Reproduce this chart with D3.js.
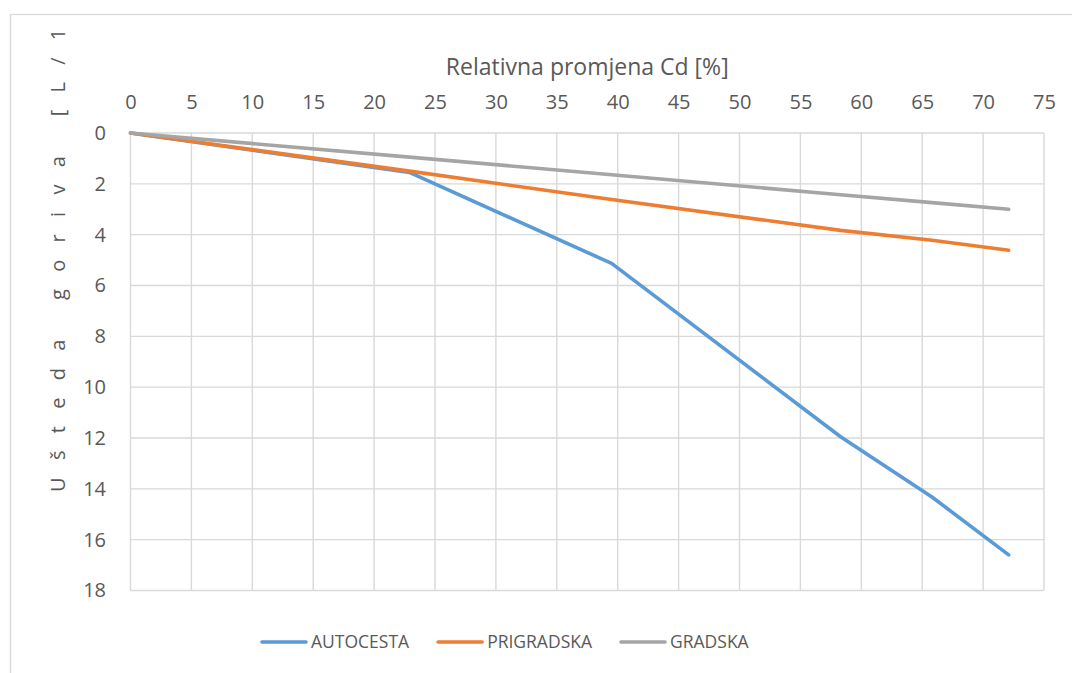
<!DOCTYPE html>
<html>
<head>
<meta charset="utf-8">
<script src="https://cdn.jsdelivr.net/npm/d3@7"></script>
<style>
  html, body { margin: 0; padding: 0; background: #ffffff; }
  svg { display: block; }
  text { font-family: "Open Sans", sans-serif; fill: #595959; }
</style>
</head>
<body>
<svg id="chart" width="1072" height="673"></svg>
<script>
// Relative change of drag coefficient Cd [%] vs. fuel savings per driving cycle
const seriesNames = ["AUTOCESTA", "PRIGRADSKA", "GRADSKA"];
const seriesColors = ["#5b9bd5", "#ed7d31", "#a5a5a5"];
const cdChange = [0, 22.9, 39.5, 58.3, 65.8, 72.1];
const autocesta = [0, 1.55, 5.13, 11.95, 14.32, 16.6];
const prigradska = [0, 1.5, 2.62, 3.83, 4.22, 4.61];
const gradska = [0, 0.95, 1.64, 2.43, 2.74, 3.0];
const xTicks = [0, 5, 10, 15, 20, 25, 30, 35, 40, 45, 50, 55, 60, 65, 70, 75];
const yTicks = [0, 2, 4, 6, 8, 10, 12, 14, 16, 18];
const xTitle = "Relativna promjena Cd [%]";
const yTitle = "Ušteda goriva [L/1";

const seriesValues = [autocesta, prigradska, gradska];

const svg = d3.select("#chart");

// chart area frame
svg.append("rect")
  .attr("x", 10.5).attr("y", 14.5)
  .attr("width", 1100).attr("height", 700)
  .attr("fill", "#ffffff")
  .attr("stroke", "#d9d9d9").attr("stroke-width", 1.3);

const plot = { left: 130.5, right: 1044, top: 133, bottom: 590.5 };

const x = d3.scaleLinear().domain([0, 75]).range([plot.left, plot.right]);
const y = d3.scaleLinear().domain([0, 18]).range([plot.top, plot.bottom]);

// gridlines
const grid = svg.append("g").attr("stroke", "#d9d9d9").attr("stroke-width", 1.4);
grid.selectAll("line.v").data(xTicks).join("line")
  .attr("class", "v")
  .attr("x1", d => x(d)).attr("x2", d => x(d))
  .attr("y1", plot.top).attr("y2", plot.bottom);
grid.selectAll("line.h").data(yTicks).join("line")
  .attr("class", "h")
  .attr("x1", plot.left).attr("x2", plot.right)
  .attr("y1", d => y(d)).attr("y2", d => y(d));

// x axis along the top
const xAxis = svg.append("g")
  .attr("transform", `translate(0,${plot.top})`)
  .call(d3.axisTop(x).tickValues(xTicks).tickSize(0).tickPadding(24).tickFormat(d3.format("d")));
xAxis.select(".domain").remove();
xAxis.selectAll("text")
  .style("font-family", "'Open Sans', sans-serif")
  .style("font-size", "20px")
  .attr("fill", "#595959");

// y axis on the left, values growing downward
const yAxis = svg.append("g")
  .attr("transform", `translate(${plot.left},0)`)
  .call(d3.axisLeft(y).tickValues(yTicks).tickSize(0).tickPadding(24.5).tickFormat(d3.format("d")));
yAxis.select(".domain").remove();
yAxis.selectAll("text")
  .style("font-family", "'Open Sans', sans-serif")
  .style("font-size", "20px")
  .attr("fill", "#595959");

// axis titles
svg.append("text")
  .attr("x", (plot.left + plot.right) / 2).attr("y", 75)
  .attr("text-anchor", "middle")
  .style("font-size", "23px")
  .text(xTitle);

svg.append("text")
  .attr("transform", "translate(65,492) rotate(-90)")
  .attr("text-anchor", "start")
  .style("font-size", "20px")
  .style("letter-spacing", "17.3px")
  .text(yTitle);

// series lines
const line = d3.line()
  .x((d, i) => x(cdChange[i]))
  .y(d => y(d));

svg.append("g").selectAll("path").data(seriesValues).join("path")
  .attr("d", d => line(d))
  .attr("fill", "none")
  .attr("stroke", (d, i) => seriesColors[i])
  .attr("stroke-width", 3.6)
  .attr("stroke-linecap", "round")
  .attr("stroke-linejoin", "round");

// legend
const legend = svg.append("g").attr("transform", "translate(262,642)");
let lx = 0;
seriesNames.forEach((name, i) => {
  const item = legend.append("g").attr("transform", `translate(${lx},0)`);
  item.append("line")
    .attr("x1", 0).attr("x2", 44)
    .attr("y1", 0).attr("y2", 0)
    .attr("stroke", seriesColors[i])
    .attr("stroke-width", 3.6)
    .attr("stroke-linecap", "round");
  const t = item.append("text")
    .attr("x", 49).attr("y", 6.3)
    .style("font-size", "17.5px")
    .text(name);
  lx += 49 + t.node().getComputedTextLength() + 29;
});
</script>
</body>
</html>
